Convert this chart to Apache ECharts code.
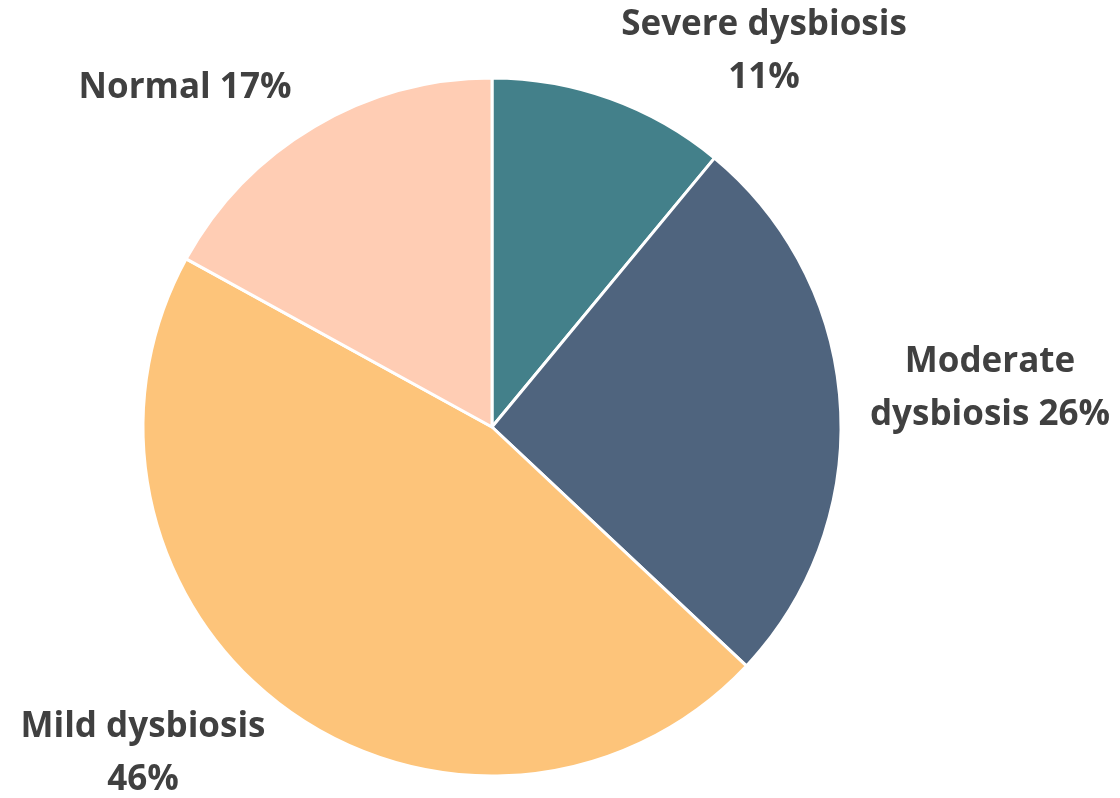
<!DOCTYPE html>
<html>
<head>
<meta charset="utf-8">
<style>
  html, body { margin: 0; padding: 0; background: #ffffff; }
  #chart { width: 1120px; height: 798px; }
</style>
<script src="https://cdn.jsdelivr.net/npm/echarts@6/dist/echarts.min.js"></script>
</head>
<body>
<div id="chart"></div>
<script>
// Share of samples per dysbiosis grade (%)
const categories = ['Severe dysbiosis', 'Moderate dysbiosis', 'Mild dysbiosis', 'Normal'];
const shares = [11, 26, 46, 17];
const colors = ['#43808A', '#4F647E', '#FDC47A', '#FFCDB4'];

// Where each slice's label sits on the canvas (centre of the text block)
const labelSpots = [[764, 52], [990, 389], [143, 754], [185, 88]];

function labelText(i) {
  const pct = shares[i] + '%';
  if (i === 1) return 'Moderate\ndysbiosis ' + pct;
  if (i === 3) return categories[i] + ' ' + pct;
  return categories[i] + '\n' + pct;
}

const chart = echarts.init(document.getElementById('chart'), null, { renderer: 'canvas' });
chart.setOption({
  animation: false,
  series: [{
    type: 'pie',
    center: [492, 427],
    radius: 349,
    startAngle: 90,
    clockwise: true,
    data: categories.map((name, i) => ({
      name: name,
      value: shares[i],
      itemStyle: { color: colors[i] }
    })),
    itemStyle: { borderColor: '#ffffff', borderWidth: 3 },
    label: {
      show: true,
      position: 'outside',
      formatter: p => labelText(p.dataIndex),
      fontFamily: 'Open Sans',
      fontWeight: 'bold',
      fontSize: 35,
      lineHeight: 53,
      color: '#404040',
      align: 'center',
      overflow: 'none'
    },
    labelLine: { show: false },
    labelLayout: p => ({
      x: labelSpots[p.dataIndex][0],
      y: labelSpots[p.dataIndex][1],
      align: 'center',
      verticalAlign: 'middle'
    }),
    emphasis: { disabled: true }
  }]
});
</script>
</body>
</html>
